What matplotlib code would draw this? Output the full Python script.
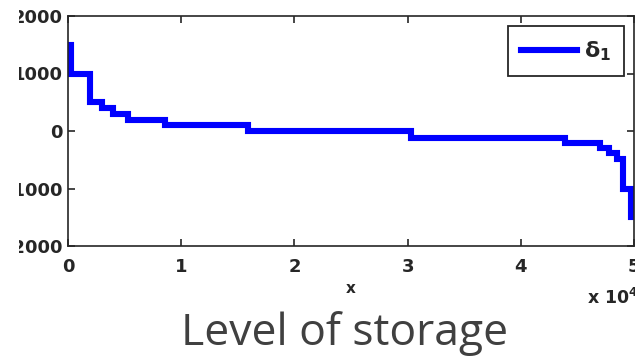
import numpy as np
import matplotlib.pyplot as plt
from matplotlib.transforms import Bbox, TransformedBbox

plt.rc('font', family=['DejaVu Sans'])
plt.rc('axes', unicode_minus=False)

# step edges (in units of x) and the level held on each interval
x_edges = [0, 300, 1900, 3000, 4000, 5300, 8600, 15900, 30300,
           43900, 47000, 47800, 48500, 49000, 49700, 50000]
delta1 = [1500, 1000, 500, 400, 300, 190, 110, 0, -115,
          -210, -300, -390, -490, -1000, -1500]

yticks = [-2000, -1000, 0, 1000, 2000]
xticks = [0, 10000, 20000, 30000, 40000, 50000]
xticklabels = ['0', '1', '2', '3', '4', '5']

ink = '#262626'

fig = plt.figure(figsize=(6.35, 3.56), dpi=100)
ax = fig.add_axes([68/635, 1 - 246/356, 566/635, 230/356])

ax.step(x_edges, delta1 + [delta1[-1]], where='post', color='#0000ff',
        linewidth=4.4, label=r'δ$_{\mathbf{1}}$', solid_joinstyle='miter')

ax.set_xlim(0, 50000)
ax.set_ylim(-2000, 2000)
ax.set_xticks(xticks)
ax.set_xticklabels(xticklabels)
ax.set_yticks(yticks)
ax.tick_params(direction='in', length=5, width=1.2, top=True, right=True,
               labelsize=13, colors=ink)
ax.tick_params(axis='x', pad=9)
ax.tick_params(axis='y', pad=4)
for lab in ax.get_xticklabels() + ax.get_yticklabels():
    lab.set_fontweight('bold')
for s in ax.spines.values():
    s.set_linewidth(1.2)
    s.set_color(ink)

# the left strip of the figure hides the front of the y labels
strip = TransformedBbox(Bbox([[19/635, 0], [1, 1]]), fig.transFigure)
for lab in ax.get_yticklabels():
    lab.set_clip_box(strip)
    lab.set_clip_on(True)

ax.set_xlabel('x', fontsize=11, fontweight='bold', color=ink, labelpad=3)
fig.text(587/635, 1 - 298/356, r'x 10$^{\mathbf{4}}$', fontsize=12.5,
         fontweight='bold', color=ink, ha='left', va='center')

leg = ax.legend(loc='upper right', prop={'size': 16, 'weight': 'bold'},
                frameon=True, fancybox=False, handlelength=2.5,
                borderaxespad=0.45, handletextpad=0.3, borderpad=0.6)
leg.get_frame().set_edgecolor(ink)
leg.get_frame().set_linewidth(1.3)
leg.get_frame().set_alpha(1)
for t in leg.get_texts():
    t.set_color(ink)

fig.text(345/635, 1 - 345/356, 'Level of storage', fontsize=32,
         color='#404040', ha='center', va='baseline', family='Open Sans')

fig.savefig('out.png', dpi=100)
